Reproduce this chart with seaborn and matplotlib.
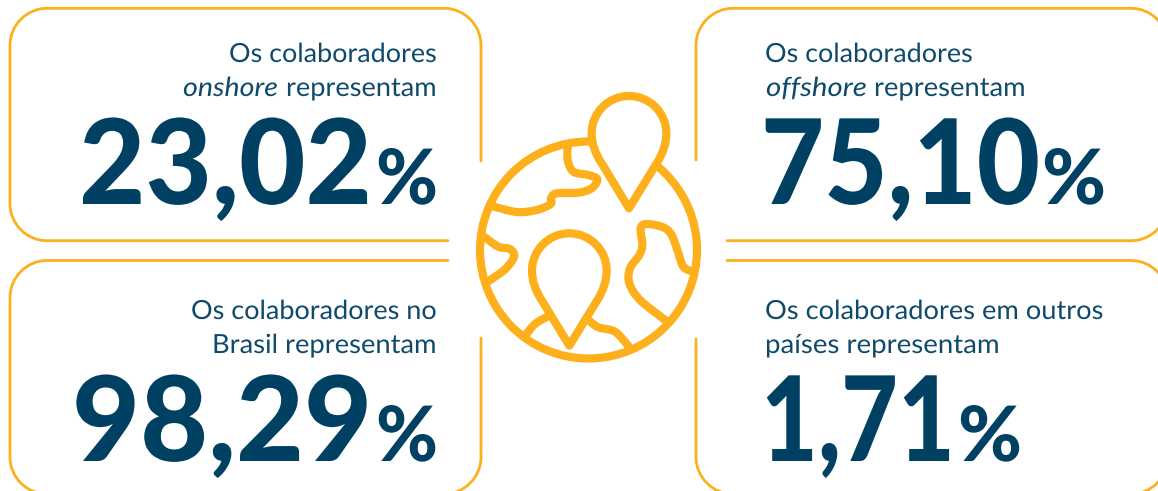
import matplotlib.pyplot as plt
from matplotlib.patches import PathPatch
from matplotlib.path import Path
from matplotlib.patheffects import AbstractPathEffect
from matplotlib.transforms import Affine2D
import seaborn as sns
import numpy as np

# values of the four cards
values = [23.02, 75.10, 98.29, 1.71]
line1 = ["Os colaboradores", "Os colaboradores", "Os colaboradores no", "Os colaboradores em outros"]
line2 = ["representam", "representam", "Brasil representam", "países representam"]
italics = ["onshore", "offshore"]

ORANGE = "#FDB01B"
NAVY = "#004163"
TXT = "#0F4A6B"

sns.set_theme(style="white")
plt.rcParams["font.family"] = ["Lato", "DejaVu Sans"]

fig, ax = plt.subplots(figsize=(11.58, 4.91), dpi=100)
fig.subplots_adjust(0, 0, 1, 1)
ax.set_xlim(0, 1158)
ax.set_ylim(491, 0)
ax.axis("off")


def stroke(path, fc="none", lw=2.0, z=2):
    ax.add_patch(PathPatch(path, fc=fc, ec=ORANGE, lw=lw, capstyle="round", joinstyle="round", zorder=z))


def frame(start, corners, end, r=37, k=0.55):
    # open outline with rounded corners
    pts = [np.array(p, float) for p in [start] + corners + [end]]
    verts, codes = [start], [Path.MOVETO]
    for i in range(1, len(pts) - 1):
        c = pts[i]
        a = c + (pts[i - 1] - c) / np.linalg.norm(pts[i - 1] - c) * r
        b = c + (pts[i + 1] - c) / np.linalg.norm(pts[i + 1] - c) * r
        verts += [tuple(a), tuple(a + (c - a) * k), tuple(b + (c - b) * k), tuple(b)]
        codes += [Path.LINETO] + [Path.CURVE4] * 3
    verts.append(end)
    codes.append(Path.LINETO)
    return Path(verts, codes)


L, R, T1, B1, T2, B2 = 10, 481, 8.3, 240.7, 260.5, 494
L2, R2 = 696, 1168
# white face: agg clips the control points of unfilled curves at the canvas edge
stroke(frame((448, B1), [(L, B1), (L, T1), (R, T1)], (R, 161)), fc="white", z=1)
stroke(frame((L2, 160), [(L2, T1), (R2, T1), (R2, B1)], (727, B1)), fc="white", z=1)
stroke(frame((448, T2), [(L, T2), (L, B2), (R, B2)], (R, 338)), fc="white", z=1)
stroke(frame((L2, 339), [(L2, B2), (R2, B2), (R2, T2)], (727, T2)), fc="white", z=1)


def zoom_xy(pts):
    # icon sketched on the 3x crop of the picture
    return [(440 + x / 3, 70 + y / 3) for x, y in pts]


def smooth(pts):
    # catmull-rom through the sketched points
    pts = np.array(zoom_xy(pts))
    p = np.vstack([pts[0], pts, pts[-1]])
    verts, codes = [tuple(pts[0])], [Path.MOVETO]
    for i in range(1, len(p) - 2):
        verts += [tuple(p[i] + (p[i + 1] - p[i - 1]) / 6), tuple(p[i + 1] - (p[i + 2] - p[i]) / 6), tuple(p[i + 1])]
        codes += [Path.CURVE4] * 3
    return Path(verts, codes)


ICON = 5.9
# globe
ax.add_patch(plt.Circle((588.5, 250), 108.5, fc="none", ec=ORANGE, lw=ICON, zorder=3))
continents = [
    [(383, 228), (383, 270), (400, 305), (445, 315), (472, 328), (455, 355), (415, 368), (350, 370), (333, 385), (332, 402), (290, 420), (230, 426), (155, 408)],
    [(132, 500), (175, 530), (210, 537), (222, 560), (195, 598), (143, 635)],
    [(758, 605), (730, 590), (712, 540), (695, 495), (670, 472), (620, 462), (602, 475), (607, 525), (598, 555), (570, 595), (568, 640), (600, 690), (678, 752)],
    [(445, 750), (475, 772), (525, 785), (567, 830)],
    [(325, 738), (285, 762), (255, 798)],
]
for c in continents:
    stroke(smooth(c), lw=ICON, z=3)


def pin(dx, dy):
    base = [(567, 415), (485, 280), (465, 250), (455, 220), (455, 190), (455, 128), (505, 78), (567, 78),
            (629, 78), (679, 128), (679, 190), (679, 220), (669, 250), (650, 280), (567, 415), (567, 415)]
    base = zoom_xy([(x + dx, y + dy) for x, y in base])
    codes = [Path.MOVETO, Path.LINETO] + [Path.CURVE4] * 12 + [Path.LINETO, Path.CLOSEPOLY]
    return Path(base, codes)


stroke(pin(0, 0), fc="white", lw=ICON, z=4)
stroke(pin(-179, 412), fc="white", lw=ICON, z=4)


class Squeeze(AbstractPathEffect):
    # stretch a text horizontally so it spans the same width as the original font
    def __init__(self, sx, x0):
        super().__init__()
        self.sx, self.x0 = sx, x0

    def draw_path(self, renderer, gc, tpath, affine, rgbFace=None):
        aff = affine + Affine2D().translate(-self.x0, 0).scale(self.sx, 1).translate(self.x0, 0)
        renderer.draw_path(gc, tpath, aff, rgbFace)


def put(s, x0, x1, y, size, color=TXT, **kw):
    # text whose ink runs from x0 to x1, on baseline y; anchored at its right end
    t = ax.text(x1, y, s, ha="right", va="baseline", fontsize=size, color=color, zorder=5, **kw)
    fig.canvas.draw()
    w = t.get_window_extent().width
    t.set_path_effects([Squeeze((x1 - x0) / w, x1)])
    return t


SMALL = 19
BIG = 85
PCT = 55
base1 = [62, 62, 319, 319]
base2 = [96, 96, 353, 353]
base_big = [204, 204, 461, 461]
span1 = [(229, 437), (765, 973), (191, 437), (765, 1104)]
span2 = [(286, 437), (874, 1026), (212, 437), (765, 1000)]
span_num = [(79, 372), (761, 1040), (72, 372), (761, 955)]
span_pct = [(376, 438), (1042, 1106), (376, 438), (958, 1022)]
span_it = [(183, 278), (766, 867)]

for i, v in enumerate(values):
    s = f"{v:.2f}".replace(".", ",")
    put(line1[i], *span1[i], base1[i], SMALL)
    put(line2[i], *span2[i], base2[i], SMALL)
    put(s, *span_num[i], base_big[i], BIG, color=NAVY, fontweight="black")
    put("%", *span_pct[i], base_big[i], PCT, color=NAVY, fontweight="black")

for i, s in enumerate(italics):
    put(s, *span_it[i], base2[i], SMALL, style="italic")

fig.savefig("out.png", dpi=100)
